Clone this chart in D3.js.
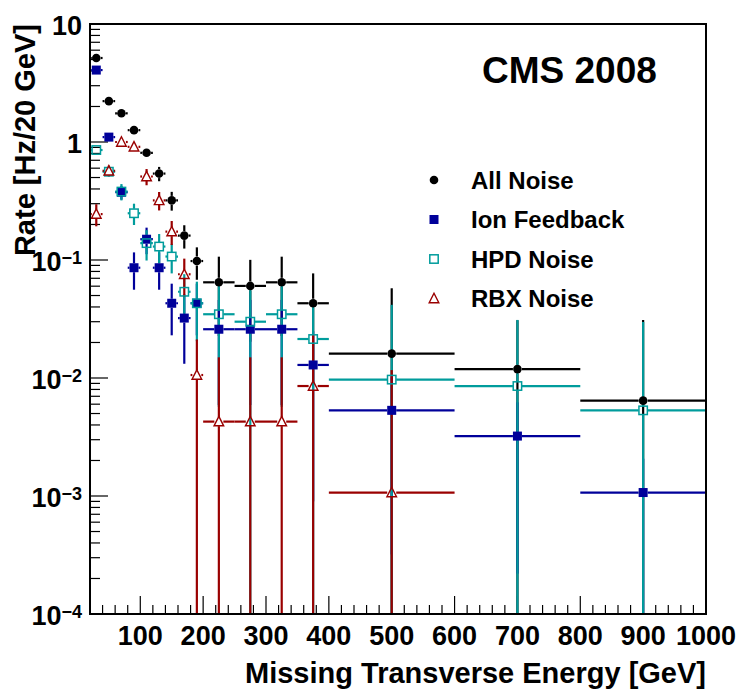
<!DOCTYPE html>
<html><head><meta charset="utf-8">
<script src="https://cdn.jsdelivr.net/npm/d3@7"></script>
<style>
body{margin:0;background:#fff}
svg{display:block}
text{font-family:"Liberation Sans",Arial,Helvetica,sans-serif;font-weight:bold;fill:#000}
</style></head>
<body><svg id="chart" width="741" height="689"></svg>
<script>
// ---- data ----
const binLow  = [20,40,60,80,100,120,140,160,180,200,250,300,350,400,600,800];
const binHigh = [40,60,80,100,120,140,160,180,200,250,300,350,400,600,800,1000];

const allNoise    = [5.15,2.22,1.75,1.26,0.81,0.54,0.32,0.161,0.098,0.0647,0.0603,0.0647,0.0430,0.0161,0.0119,0.00643];
const allNoiseErr = [0.10,0.07,0.06,0.06,0.06,0.075,0.058,0.036,0.030,0.042,0.040,0.042,0.034,0.0415,0.019,0.0246];

const ionFeedback    = [4.07,1.10,0.375,0.086,0.150,0.086,0.043,0.0322,0.043,0.0259,0.0259,0.0259,0.0129,0.00532,0.00322,0.00107];
const ionFeedbackErr = [0.10,0.06,0.05,0.030,0.038,0.030,0.020,0.019,0.020,0.020,0.020,0.020,0.012,0.005,0.003,0.001];

const hpdNoise    = [0.855,0.56,0.38,0.249,0.139,0.130,0.107,0.0538,0.043,0.0347,0.030,0.0347,0.0214,0.00969,0.00855,0.00532];
const hpdNoiseErr = [0.05,0.05,0.06,0.051,0.04,0.036,0.03,0.022,0.0225,0.029,0.030,0.029,0.0216,0.032,0.0225,0.0245];

const rbxNoise    = [0.245,0.57,1.0,0.91,0.51,0.32,0.174,0.0757,0.0106,0.00427,0.00427,0.00427,0.00855,0.00107,0,0];
const rbxNoiseErr = [0.052,0.06,0.07,0.07,0.08,0.057,0.04,0.027,0.0106,0.0107,0.0107,0.0107,0.0146,0.0106,0,0];

const seriesNames = ["All Noise","Ion Feedback","HPD Noise","RBX Noise"];
const xTickLabels = [100,200,300,400,500,600,700,800,900,1000];
const yDecades = [1e-4,1e-3,1e-2,1e-1,1,10];

// ---- layout ----
const svg = d3.select("#chart");
const L = 90, R = 706, T = 24, B = 614;
const x = d3.scaleLinear().domain([20,1000]).range([L,R]);
const y = d3.scaleLog().domain([1e-4,10]).range([B,T]);

const series = [
  {name:seriesNames[0], v:allNoise,    e:allNoiseErr,    color:"#000000", marker:"dot"},
  {name:seriesNames[1], v:ionFeedback, e:ionFeedbackErr, color:"#00009a", marker:"fsquare"},
  {name:seriesNames[2], v:hpdNoise,    e:hpdNoiseErr,    color:"#009c9c", marker:"osquare"},
  {name:seriesNames[3], v:rbxNoise,    e:rbxNoiseErr,    color:"#9a0000", marker:"otri"}
];

svg.append("defs").append("clipPath").attr("id","clip")
  .append("rect").attr("x",L).attr("y",T).attr("width",R-L).attr("height",B-T);

// ---- axis ticks (under the data) ----
const ax = svg.append("g").attr("stroke","#000");
d3.range(20,1001,20).forEach(t=>{
  const major = t%100===0;
  ax.append("line").attr("x1",x(t)).attr("x2",x(t)).attr("y1",B).attr("y2",B-(major?18:9)).attr("stroke-width",1.2);
});
y.ticks().forEach(t=>{
  const lg = Math.log10(t);
  const major = Math.abs(lg-Math.round(lg))<1e-9;
  ax.append("line").attr("x1",L).attr("x2",L+(major?18:10)).attr("y1",y(t)).attr("y2",y(t)).attr("stroke-width",1.2);
});

const plot = svg.append("g").attr("clip-path","url(#clip)");
const gap = 4.5;

// error lines
series.forEach(s=>{
  const g = plot.append("g").attr("stroke",s.color).attr("stroke-width",2.2).attr("fill","none");
  s.v.forEach((v,i)=>{
    if(!(v>0)) return;
    const e = s.e[i];
    const cx = x((binLow[i]+binHigh[i])/2), cy = y(v);
    const hl = x(binLow[i]), hr = x(binHigh[i]);
    if(cx-hl>gap){
      g.append("line").attr("x1",hl).attr("x2",cx-gap).attr("y1",cy).attr("y2",cy);
      g.append("line").attr("x1",cx+gap).attr("x2",hr).attr("y1",cy).attr("y2",cy);
    }
    const up = y(v+e);
    if(cy-up>gap) g.append("line").attr("x1",cx).attr("x2",cx).attr("y1",cy-gap).attr("y2",up);
    const lv = v-e;
    const lo = lv>1e-4 ? y(lv) : B+2;
    if(lo-cy>gap) g.append("line").attr("x1",cx).attr("x2",cx).attr("y1",cy+gap).attr("y2",lo);
  });
});

function drawMarker(g, type, color, cx, cy){
  if(type==="dot"){
    g.append("circle").attr("cx",cx).attr("cy",cy).attr("r",4.3).attr("fill",color);
  } else if(type==="fsquare"){
    g.append("rect").attr("x",cx-4.5).attr("y",cy-4.5).attr("width",9).attr("height",9).attr("fill",color);
  } else if(type==="osquare"){
    g.append("rect").attr("x",cx-4.2).attr("y",cy-4.2).attr("width",8.4).attr("height",8.4)
      .attr("fill","none").attr("stroke",color).attr("stroke-width",1.5);
  } else {
    g.append("path").attr("d",`M${cx},${cy-5.2}L${cx+4.8},${cy+4.2}L${cx-4.8},${cy+4.2}Z`)
      .attr("fill","none").attr("stroke",color).attr("stroke-width",1.4);
  }
}

// markers
series.forEach(s=>{
  const g = plot.append("g");
  s.v.forEach((v,i)=>{
    if(!(v>0)) return;
    drawMarker(g, s.marker, s.color, x((binLow[i]+binHigh[i])/2), y(v));
  });
});

// frame
svg.append("rect").attr("x",L).attr("y",T).attr("width",R-L).attr("height",B-T)
  .attr("fill","none").attr("stroke","#000").attr("stroke-width",2);

// x labels
xTickLabels.forEach(t=>{
  svg.append("text").attr("x",x(t)).attr("y",645).attr("text-anchor","middle")
    .style("font-size","27px").text(t);
});
// y labels
yDecades.forEach(t=>{
  const lg = Math.round(Math.log10(t));
  const tx = svg.append("text").attr("x",82).attr("y",y(t)+10.5).attr("text-anchor","end").style("font-size","27px");
  if(lg===0) tx.text("1");
  else if(lg===1) tx.text("10");
  else {
    tx.append("tspan").text("10");
    tx.append("tspan").attr("dy",-7).style("font-size","18px").text("\u2212"+(-lg));
  }
});

// axis titles
svg.append("text").attr("x",706).attr("y",683).attr("text-anchor","end").style("font-size","29px")
  .text("Missing Transverse Energy [GeV]");
svg.append("text").attr("transform","translate(35,24) rotate(-90)").attr("text-anchor","end").style("font-size","29px")
  .text("Rate [Hz/20 GeV]");

// CMS label
svg.append("text").attr("x",482).attr("y",83).style("font-size","37px").text("CMS 2008");

// legend
const legY = [180,219.5,259,298.5];
series.forEach((s,i)=>{
  const g = svg.append("g");
  drawMarker(g, s.marker, s.color, 434, legY[i]);
  svg.append("text").attr("x",471).attr("y",legY[i]+8.5).style("font-size","24px").text(s.name);
});
</script>
</body></html>
